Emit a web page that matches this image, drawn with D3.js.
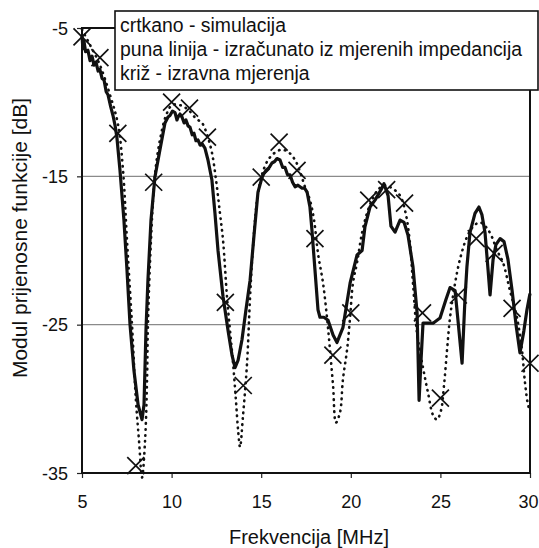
<!DOCTYPE html>
<html><head><meta charset="utf-8">
<script src="https://cdn.jsdelivr.net/npm/d3@7"></script>
<style>body{margin:0;background:#fff}svg{display:block}text{font-family:"Liberation Sans",Arial,sans-serif;fill:#111}</style>
</head><body><svg id="c" width="539" height="548"></svg>
<script>
// ---- data ----
const xTicks = [5, 10, 15, 20, 25, 30];
const yTicks = [-5, -15, -25, -35];
const legendLines = ["crtkano - simulacija", "puna linija - izračunato iz mjerenih impedancija", "križ - izravna mjerenja"];
const xLabel = "Frekvencija [MHz]";
const yLabel = "Modul prijenosne funkcije [dB]";

// measured (crosses)
const measF = [5,6,7,8,9,10,11,12,13,14,15,16,17,18,19,20,21,22,23,24,25,26,27,28,29,30];
const measDB = [-5.6,-7.0,-12.1,-34.5,-15.4,-10.0,-10.4,-12.35,-23.5,-29.1,-15.05,-12.7,-14.6,-19.2,-27.05,-24.2,-16.6,-15.9,-16.8,-24.2,-29.95,-23.0,-19.2,-20.2,-23.9,-27.6];

// computed from measured impedances (solid)
const calcF = [5.0,5.05,5.11,5.2,5.33,5.45,5.56,5.67,5.78,5.9,6.0,6.12,6.23,6.35,6.45,6.6,6.73,6.85,6.95,7.12,7.34,7.51,7.68,7.9,8.13,8.35,8.46,8.57,8.68,8.85,9.07,9.35,9.63,9.8,9.91,10.05,10.19,10.3,10.36,10.47,10.58,10.7,10.8,10.92,11.03,11.15,11.25,11.36,11.47,11.6,11.7,11.86,12.03,12.25,12.42,12.59,12.87,13.15,13.37,13.54,13.71,13.93,14.15,14.38,14.6,14.82,15.04,15.15,15.27,15.45,15.6,15.75,15.88,16.05,16.2,16.33,16.47,16.61,16.75,16.89,17.05,17.28,17.42,17.56,17.72,17.83,18.0,18.17,18.28,18.5,18.73,19.01,19.23,19.56,19.96,20.35,20.63,20.79,21.07,21.35,21.69,21.85,22.08,22.24,22.47,22.75,22.97,23.19,23.47,23.7,23.81,23.92,24.03,24.31,24.59,24.98,25.31,25.54,25.82,25.98,26.21,26.37,26.48,26.65,26.93,27.15,27.32,27.49,27.66,27.77,27.94,28.1,28.33,28.55,28.77,29.0,29.22,29.44,29.66,29.83,30.0];
const calcDB = [-5.5,-6.4,-5.9,-6.6,-6.5,-7.2,-6.9,-7.5,-7.3,-7.9,-7.8,-8.4,-8.5,-9.3,-9.5,-10.3,-10.9,-11.6,-12.4,-14.6,-17.95,-21.3,-25.0,-28.1,-30.4,-31.4,-30.4,-25.4,-22.0,-17.95,-15.05,-13.2,-11.4,-11.0,-10.9,-10.6,-10.7,-11.2,-11.0,-10.8,-11.0,-11.4,-11.2,-11.6,-11.7,-12.2,-12.1,-12.6,-12.55,-12.9,-12.8,-13.1,-13.9,-15.25,-17.5,-20.0,-23.1,-25.4,-27.05,-27.9,-27.4,-26.0,-24.0,-22.0,-18.96,-16.06,-15.1,-14.8,-14.6,-14.4,-14.1,-14.0,-13.8,-13.9,-14.4,-14.4,-14.9,-14.9,-15.4,-15.7,-15.6,-15.8,-15.8,-16.06,-17.07,-18.6,-21.3,-24.0,-24.5,-24.5,-24.7,-25.7,-26.2,-25.2,-22.2,-20.3,-20.0,-18.4,-17.07,-16.6,-15.9,-15.5,-16.3,-18.35,-18.76,-17.95,-18.1,-18.96,-21.1,-24.2,-30.1,-27.4,-24.9,-24.9,-24.9,-24.55,-23.3,-22.5,-22.7,-24.7,-27.6,-23.3,-21.1,-18.8,-17.5,-17.07,-17.6,-18.8,-21.3,-23.0,-20.6,-19.6,-19.2,-19.4,-20.6,-22.7,-25.0,-26.9,-25.4,-24.0,-22.9];

// simulation (dotted)
const simF = [5.0,5.45,6.0,6.56,7.01,7.29,7.51,7.79,8.01,8.18,8.35,8.52,8.63,8.68,8.85,9.07,9.35,9.69,10.02,10.47,10.92,11.36,11.7,11.98,12.25,12.48,12.7,12.87,13.09,13.26,13.43,13.59,13.71,13.82,13.98,14.21,14.38,14.54,14.77,15.04,15.38,15.77,16.16,16.55,16.89,17.17,17.44,17.72,17.95,18.17,18.45,18.67,18.84,19.01,19.17,19.4,19.56,19.79,19.96,20.12,20.35,20.63,20.9,21.18,21.52,21.91,22.3,22.75,23.08,23.3,23.47,23.7,24.03,24.31,24.59,24.81,25.03,25.2,25.37,25.54,25.82,26.09,26.48,26.82,27.21,27.6,27.88,28.16,28.49,28.88,29.27,29.55,29.72,29.89,30.0];
const simDB = [-5.1,-6.15,-7.5,-9.5,-11.5,-14.6,-19.3,-25.0,-30.1,-32.8,-35.3,-32.8,-28.7,-25.0,-19.3,-14.9,-12.55,-10.9,-10.2,-10.2,-10.5,-11.1,-11.4,-12.2,-13.4,-15.25,-17.5,-19.3,-23.1,-25.4,-27.6,-30.1,-32.1,-33.25,-31.2,-27.6,-23.1,-19.8,-16.6,-14.9,-13.9,-13.4,-13.2,-13.4,-13.9,-14.7,-15.7,-16.6,-17.95,-20.2,-22.2,-24.5,-26.7,-29.1,-31.6,-30.9,-28.7,-26.7,-24.5,-22.2,-20.8,-18.8,-17.5,-16.6,-15.9,-15.6,-15.8,-16.3,-17.6,-19.5,-22.2,-25.6,-27.9,-29.6,-31.1,-31.4,-30.8,-29.1,-26.7,-24.5,-22.2,-20.6,-19.1,-18.4,-18.1,-18.5,-19.1,-20.0,-20.8,-22.7,-24.5,-26.7,-28.9,-30.4,-30.8];

// ---- chart ----
const svg = d3.select("#c");
const L = 82, R = 530, T = 28, B = 473;
const x = d3.scaleLinear().domain([5, 30]).range([L, R]);
const y = d3.scaleLinear().domain([-35, -5]).range([B, T]);

// gridlines
svg.append("g").selectAll("line").data([-15, -25]).join("line")
  .attr("x1", L).attr("x2", R).attr("y1", d => y(d)).attr("y2", d => y(d))
  .attr("stroke", "#8a8a8a").attr("stroke-width", 1.2);

// axes
const xAxis = svg.append("g").attr("transform", `translate(0,${B})`)
  .call(d3.axisBottom(x).tickValues(xTicks).tickSize(5).tickPadding(17).tickFormat(d3.format("d")));
const yAxis = svg.append("g").attr("transform", `translate(${L},0)`)
  .call(d3.axisLeft(y).tickValues(yTicks).tickSize(5).tickPadding(9).tickFormat(d => d < 0 ? "-" + Math.abs(d) : d));
[xAxis, yAxis].forEach(g => {
  g.select(".domain").remove();
  g.selectAll("line").attr("stroke", "#222").attr("stroke-width", 1.2);
  g.selectAll("text").style("font-family", '"Liberation Sans",Arial,sans-serif').style("font-size", "18px").attr("fill", "#111");
});
yAxis.selectAll("text").attr("dy", "0.35em");
// keep the last x label inside the window
xAxis.selectAll(".tick").filter(d => d === 30).select("text").attr("dx", "-2");

// frame
svg.append("rect").attr("x", L).attr("y", T).attr("width", R - L).attr("height", B - T)
  .attr("fill", "none").attr("stroke", "#111").attr("stroke-width", 2);

// simulation dotted
svg.append("path").datum(d3.zip(simF, simDB))
  .attr("d", d3.line().x(d => x(d[0])).y(d => y(d[1])).curve(d3.curveCatmullRom))
  .attr("fill", "none").attr("stroke", "#111").attr("stroke-width", 2.6)
  .attr("stroke-dasharray", "0.5 5.5").attr("stroke-linecap", "round");

// computed solid
svg.append("path").datum(d3.zip(calcF, calcDB))
  .attr("d", d3.line().x(d => x(d[0])).y(d => y(d[1])))
  .attr("fill", "none").attr("stroke", "#111").attr("stroke-width", 3.2)
  .attr("stroke-linejoin", "round");

// crosses
const s = 8.5;
svg.append("g").selectAll("path").data(d3.zip(measF, measDB)).join("path")
  .attr("d", d => { const cx = x(d[0]), cy = y(d[1]); return `M${cx-s},${cy-s}L${cx+s},${cy+s}M${cx-s},${cy+s}L${cx+s},${cy-s}`; })
  .attr("stroke", "#111").attr("stroke-width", 1.7).attr("fill", "none");

// legend
const lg = svg.append("g");
lg.append("rect").attr("x", 115).attr("y", 11).attr("width", 423).attr("height", 79)
  .attr("fill", "#fff").attr("stroke", "#111").attr("stroke-width", 1.6);
lg.selectAll("text").data(legendLines).join("text")
  .attr("x", 120).attr("y", (d, i) => 32 + i * 24)
  .style("font-size", "19.4px").text(d => d);

// axis titles
svg.append("text").attr("x", 309).attr("y", 544).attr("text-anchor", "middle")
  .style("font-size", "20px").text(xLabel);
svg.append("text").attr("transform", "translate(27,238) rotate(-90)").attr("text-anchor", "middle")
  .style("font-size", "21px").text(yLabel);
</script></body></html>
